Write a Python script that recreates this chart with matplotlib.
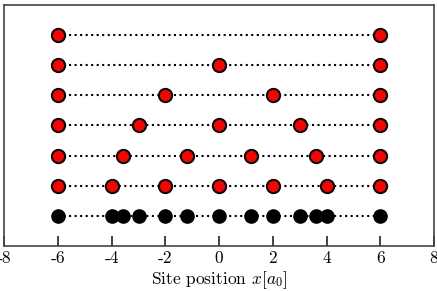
import matplotlib
matplotlib.use('Agg')
import matplotlib.pyplot as plt

plt.rcParams['font.family'] = 'serif'
plt.rcParams['font.serif'] = ['cmr10']
plt.rcParams['mathtext.fontset'] = 'cm'
plt.rcParams['axes.unicode_minus'] = False

# site positions for each chain (top row first)
rows = [
    [-6, 6],
    [-6, 0, 6],
    [-6, -2, 2, 6],
    [-6, -3, 0, 3, 6],
    [-6, -3.6, -1.2, 1.2, 3.6, 6],
    [-6, -4, -2, 0, 2, 4, 6],
]
# all sites together (bottom row)
all_sites = [-6, -4, -3.6, -3, -2, -1.2, 0, 1.2, 2, 3, 3.6, 4, 6]
xticks = list(range(-8, 9, 2))

fig, ax = plt.subplots(figsize=(4.37, 2.91), dpi=100)

n = len(rows)
for i, xs in enumerate(rows):
    y = n - i
    ax.plot(xs, [y] * len(xs), ':', color='black', lw=1.5, zorder=1)
    ax.plot(xs, [y] * len(xs), 'o', ms=9.5, mfc='red', mec='black', mew=1.5, zorder=2)

ax.plot(all_sites, [0] * len(all_sites), ':', color='black', lw=1.5, zorder=1)
ax.plot(all_sites, [0] * len(all_sites), 'o', ms=9.5, mfc='black', mec='black', zorder=2)

ax.set_xlim(-8, 8)
ax.set_ylim(-1, 7)
ax.set_xticks(xticks)
ax.tick_params(axis='y', left=False, labelleft=False)
ax.tick_params(axis='x', direction='in', length=7, width=1.2,
               color='#222222', labelsize=12.5, bottom=True, top=False)
for s in ax.spines.values():
    s.set_color('#444444')
    s.set_linewidth(1.2)
ax.set_xlabel(r'Site position $x[a_0]$', fontsize=12.5, labelpad=2)

plt.subplots_adjust(left=0.01, right=0.993, top=0.983, bottom=0.155)
plt.savefig('out.png', dpi=100)
